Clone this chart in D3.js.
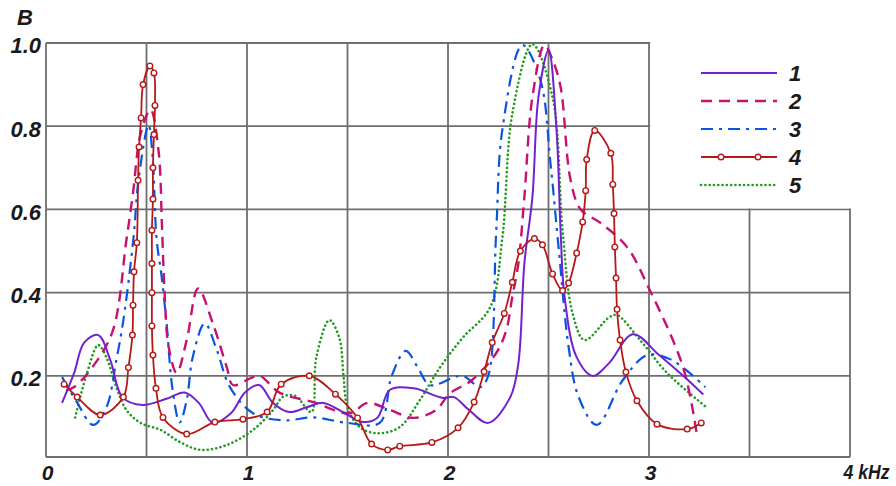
<!DOCTYPE html>
<html><head><meta charset="utf-8">
<script src="https://cdn.jsdelivr.net/npm/d3@7"></script>
<style>
html,body{margin:0;padding:0;background:#fff;}
svg text{font-family:"Liberation Sans",Arial,sans-serif;font-weight:bold;font-style:italic;fill:#1a1a1a;}
</style></head>
<body><svg id="chart" width="896" height="486"></svg>
<script>
// ---- data (frequency in kHz, amplitude B) ----
const seriesNames = ["1","2","3","4","5"];
const xTicks = [0,1,2,3,4];
const xTickLabels = ["0","1","2","3","4 kHz"];
const yTicks = [0.2,0.4,0.6,0.8,1.0];
const yTitle = "B";

const series1 = [[0.08,0.135],[0.14,0.207],[0.19,0.28],[0.26,0.298],[0.32,0.238],[0.38,0.149],[0.48,0.13],[0.60,0.145],[0.69,0.16],[0.76,0.135],[0.83,0.087],[0.92,0.11],[0.99,0.16],[1.06,0.178],[1.13,0.135],[1.21,0.113],[1.30,0.125],[1.38,0.135],[1.48,0.112],[1.58,0.089],[1.65,0.10],[1.71,0.166],[1.83,0.17],[1.975,0.147],[2.03,0.149],[2.10,0.12],[2.20,0.087],[2.31,0.149],[2.35,0.23],[2.38,0.47],[2.42,0.63],[2.45,0.87],[2.50,0.983],[2.54,0.79],[2.56,0.55],[2.58,0.39],[2.64,0.245],[2.72,0.2],[2.80,0.23],[2.92,0.30],[3.05,0.25],[3.17,0.2],[3.27,0.155]];

const series2 = [[0.10,0.165],[0.14,0.173],[0.22,0.214],[0.33,0.305],[0.40,0.526],[0.433,0.64],[0.47,0.78],[0.52,0.84],[0.56,0.74],[0.577,0.56],[0.59,0.40],[0.61,0.27],[0.65,0.207],[0.70,0.286],[0.757,0.41],[0.83,0.326],[0.90,0.22],[0.93,0.178],[1.03,0.197],[1.065,0.2],[1.164,0.159],[1.33,0.137],[1.51,0.11],[1.60,0.135],[1.71,0.118],[1.83,0.099],[1.94,0.118],[2.01,0.158],[2.12,0.19],[2.24,0.255],[2.29,0.31],[2.32,0.39],[2.35,0.47],[2.38,0.63],[2.42,0.87],[2.48,0.995],[2.52,0.96],[2.56,0.895],[2.61,0.67],[2.66,0.6],[2.76,0.567],[2.89,0.51],[3.0,0.41],[3.17,0.22],[3.24,0.053]];

const series3 = [[0.08,0.197],[0.15,0.14],[0.235,0.082],[0.30,0.123],[0.35,0.238],[0.385,0.334],[0.435,0.53],[0.46,0.67],[0.51,0.803],[0.53,0.73],[0.55,0.53],[0.575,0.44],[0.60,0.326],[0.63,0.166],[0.665,0.088],[0.70,0.142],[0.73,0.245],[0.79,0.326],[0.85,0.262],[0.915,0.173],[1.03,0.11],[1.18,0.093],[1.33,0.10],[1.50,0.087],[1.66,0.087],[1.72,0.2],[1.79,0.26],[1.85,0.22],[1.91,0.178],[2.07,0.2],[2.16,0.173],[2.20,0.2],[2.24,0.55],[2.27,0.79],[2.37,0.995],[2.46,0.91],[2.51,0.71],[2.55,0.51],[2.60,0.27],[2.65,0.149],[2.74,0.082],[2.87,0.19],[2.99,0.25],[3.09,0.243],[3.17,0.22],[3.28,0.173]];

const series4 = [[0.09,0.18],[0.155,0.149],[0.27,0.106],[0.385,0.149],[0.41,0.22],[0.43,0.298],[0.433,0.37],[0.438,0.45],[0.452,0.52],[0.458,0.67],[0.463,0.75],[0.473,0.82],[0.483,0.9],[0.517,0.945],[0.537,0.928],[0.542,0.85],[0.537,0.78],[0.532,0.70],[0.532,0.625],[0.527,0.55],[0.527,0.47],[0.527,0.40],[0.527,0.32],[0.532,0.25],[0.547,0.17],[0.582,0.1],[0.70,0.06],[0.84,0.089],[0.98,0.096],[1.10,0.113],[1.17,0.18],[1.31,0.2],[1.44,0.156],[1.55,0.099],[1.62,0.036],[1.70,0.022],[1.76,0.031],[1.92,0.04],[2.05,0.075],[2.13,0.137],[2.18,0.21],[2.22,0.28],[2.28,0.35],[2.32,0.425],[2.36,0.5],[2.43,0.53],[2.47,0.515],[2.52,0.445],[2.57,0.405],[2.60,0.423],[2.64,0.495],[2.67,0.57],[2.685,0.645],[2.69,0.72],[2.73,0.79],[2.81,0.735],[2.82,0.66],[2.826,0.59],[2.83,0.51],[2.836,0.435],[2.841,0.36],[2.856,0.286],[2.885,0.209],[2.94,0.14],[3.04,0.084],[3.19,0.072],[3.26,0.087]];

const series5 = [[0.145,0.10],[0.20,0.20],[0.26,0.274],[0.30,0.245],[0.35,0.173],[0.40,0.118],[0.47,0.087],[0.57,0.07],[0.67,0.04],[0.77,0.022],[0.90,0.034],[1.03,0.07],[1.13,0.118],[1.18,0.15],[1.24,0.152],[1.32,0.113],[1.345,0.245],[1.41,0.334],[1.46,0.29],[1.48,0.2],[1.50,0.125],[1.56,0.077],[1.65,0.062],[1.76,0.077],[1.86,0.142],[1.96,0.22],[2.07,0.29],[2.21,0.365],[2.27,0.53],[2.32,0.83],[2.42,0.997],[2.52,0.87],[2.57,0.55],[2.62,0.35],[2.68,0.286],[2.80,0.34],[2.84,0.346],[2.956,0.286],[3.09,0.207],[3.29,0.123]];

const allSeries = [series1, series2, series3, series4, series5];

// ---- styles ----
const colors = ["#7022d0","#c8106e","#0a55e0","#b81818","#239a23"];
const dashes = [null, "11,7", "12,6,3,6", null, "0.1,4.2"];
const widths = [2, 2.4, 2.2, 1.8, 2.6];
const caps = ["butt","butt","butt","butt","round"];

const svg = d3.select("#chart");
const x = d3.scaleLinear().domain([0,4]).range([46,850]);
const y = d3.scaleLinear().domain([0.005,1]).range([457,43]);

const gridColor = "#6e6e6e";
const grid = svg.append("g").attr("stroke", gridColor).attr("stroke-width", 1.8);
d3.range(0, 4.01, 0.5).forEach(v => {
  grid.append("line").attr("x1", x(v)).attr("x2", x(v)).attr("y1", y(1)).attr("y2", y(0.005));
});
yTicks.forEach(v => {
  grid.append("line").attr("x1", x(0)).attr("x2", x(4)).attr("y1", y(v)).attr("y2", y(v));
});
grid.append("line").attr("x1", x(0)).attr("x2", x(4)).attr("y1", y(0.005)).attr("y2", y(0.005));

// legend blank area
svg.append("rect").attr("x", x(3)+1.2).attr("y", 30).attr("width", 896 - x(3)).attr("height", y(0.6) - 30 - 1)
  .attr("fill", "#fff");

// axes (text only)
const yAxis = d3.axisLeft(y).tickValues(yTicks).tickFormat(d3.format(".1f")).tickSize(0).tickPadding(5);
const gy = svg.append("g").attr("transform", `translate(${x(0)},0)`).call(yAxis);
gy.select(".domain").remove();
gy.selectAll("text").style("font-size", "22px").attr("dy", "0.45em").attr("fill", "#1a1a1a");

const xAxis = d3.axisBottom(x).tickValues(xTicks).tickFormat((d,i) => xTickLabels[i]).tickSize(0).tickPadding(8);
const gx = svg.append("g").attr("transform", `translate(0,${y(0.005)})`).call(xAxis);
gx.select(".domain").remove();
gx.selectAll("text").style("font-size", "21px").attr("fill", "#1a1a1a")
  .attr("text-anchor", (d) => d === 4 ? "start" : "middle")
  .attr("x", (d) => d === 4 ? -7 : 1);
gx.selectAll("text").filter(d => d === 4).style("font-size", "20px").attr("textLength", 46).attr("lengthAdjust", "spacingAndGlyphs");

svg.append("text").attr("x", 17).attr("y", 25).style("font-size", "22px").text(yTitle);

// curves
const line = d3.line().x(d => x(d[0])).y(d => y(d[1])).curve(d3.curveCatmullRom.alpha(0.5));
const order = [4, 2, 1, 0, 3];
order.forEach(i => {
  svg.append("path").datum(allSeries[i]).attr("d", line)
    .attr("fill", "none").attr("stroke", colors[i]).attr("stroke-width", widths[i])
    .attr("stroke-dasharray", dashes[i]).attr("stroke-linecap", caps[i])
    .attr("stroke-linejoin", "round");
});
svg.append("g").selectAll("circle").data(series4).join("circle")
  .attr("cx", d => x(d[0])).attr("cy", d => y(d[1])).attr("r", 2.8)
  .attr("fill", "#fff").attr("stroke", colors[3]).attr("stroke-width", 1.4);

// legend
const lg = svg.append("g");
seriesNames.forEach((name, i) => {
  const ly = 73 + i * 28;
  lg.append("line").attr("x1", 701).attr("x2", 777).attr("y1", ly).attr("y2", ly)
    .attr("stroke", colors[i]).attr("stroke-width", widths[i]).attr("stroke-dasharray", dashes[i])
    .attr("stroke-linecap", caps[i]);
  if (i === 3) {
    [721, 758].forEach(cx => lg.append("circle").attr("cx", cx).attr("cy", ly).attr("r", 2.8)
      .attr("fill", "#fff").attr("stroke", colors[3]).attr("stroke-width", 1.4));
  }
  lg.append("text").attr("x", 789).attr("y", ly + 8).style("font-size", "22px").text(name);
});
</script></body></html>
